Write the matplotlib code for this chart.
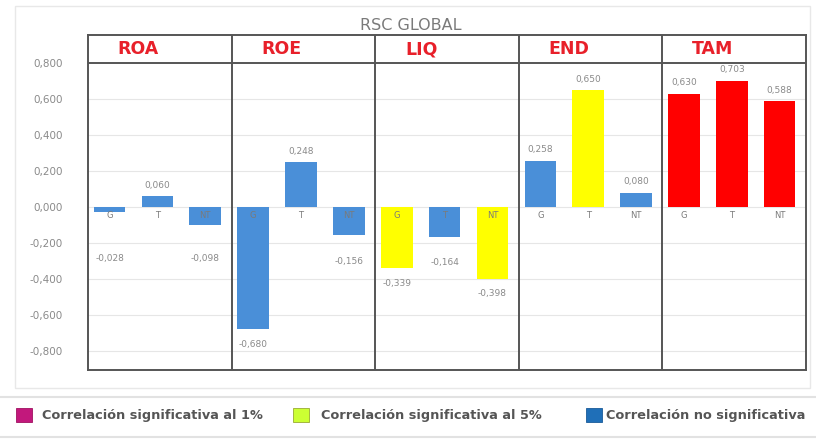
import matplotlib
matplotlib.use("Agg")
import matplotlib.pyplot as plt
from matplotlib.patches import Rectangle
from matplotlib.lines import Line2D

# ---- data ----
groups = ["ROA", "ROE", "LIQ", "END", "TAM"]
subcats = ["G", "T", "NT"]
values = {
    "ROA": [-0.028, 0.060, -0.098],
    "ROE": [-0.680, 0.248, -0.156],
    "LIQ": [-0.339, -0.164, -0.398],
    "END": [0.258, 0.650, 0.080],
    "TAM": [0.630, 0.703, 0.588],
}
# significance: 1 = 1%, 5 = 5%, 0 = not significant
signif = {
    "ROA": [0, 0, 0],
    "ROE": [0, 0, 0],
    "LIQ": [5, 0, 5],
    "END": [0, 5, 0],
    "TAM": [1, 1, 1],
}
yticks = [-0.8, -0.6, -0.4, -0.2, 0.0, 0.2, 0.4, 0.6, 0.8]
title = "RSC GLOBAL"
legend_labels = ["Correlación significativa al 1%", "Correlación significativa al 5%",
                 "Correlación no significativa"]

# ---- style ----
bar_colors = {1: "#ff0000", 5: "#ffff00", 0: "#4a8fd8"}
legend_colors = ["#c2187c", "#ccff33", "#1f6fb8"]
legend_edges = ["#a01060", "#99aa33", "#1a5a99"]
grey_txt = "#8a8a8a"

fig = plt.figure(figsize=(8.16, 4.41), dpi=100)
fig.patch.set_facecolor("white")

# faint outer chart frame
fig.add_artist(Rectangle((15 / 816, 1 - 388 / 441), 795 / 816, 382 / 441,
                         transform=fig.transFigure, fill=False,
                         edgecolor="#e8e8e8", lw=1.0))

ax = fig.add_axes([88 / 816, 1 - 370 / 441, 718 / 816, 335 / 441])
ymin, ymax = -0.906, 0.956
ax.set_ylim(ymin, ymax)
ax.set_xlim(0, 15)

# gridlines
for t in yticks[:-1]:
    ax.axhline(t, color="#e6e6e6", lw=0.8, zorder=0)

for gi, g in enumerate(groups):
    for si, s in enumerate(subcats):
        x = gi * 3 + si + 0.45
        v = values[g][si]
        c = bar_colors[signif[g][si]]
        ax.bar(x, v, width=0.66, color=c, zorder=2)
        lab = f"{v:.3f}".replace(".", ",")
        if v >= 0:
            ax.text(x, v + 0.035, lab, ha="center", va="bottom",
                    fontsize=6.5, color=grey_txt, zorder=3)
        else:
            ly = min(v - 0.06, -0.2) - (0.06 if v > -0.2 else 0.0)
            ax.text(x, ly, lab, ha="center", va="top",
                    fontsize=6.5, color=grey_txt, zorder=3)
        ax.text(x, -0.045, s, ha="center", va="center", fontsize=6,
                color="#7a7a7a", zorder=3)
    ax.text(gi * 3 + 0.62, 0.878, g, ha="left", va="center", fontsize=12.5,
            fontweight="bold", color="#e8202a", zorder=4)

# panel dividers and header line
for k in range(1, 5):
    ax.axvline(k * 3, color="#555555", lw=1.4, zorder=4)
ax.axhline(0.8, color="#555555", lw=1.4, zorder=4)
for sp in ax.spines.values():
    sp.set_color("#555555")
    sp.set_linewidth(1.4)

ax.set_xticks([])
ax.set_yticks(yticks)
ax.set_yticklabels([f"{t:.3f}".replace(".", ",") for t in yticks],
                   fontsize=7.5, color=grey_txt)
ax.tick_params(axis="y", length=0, pad=18)

fig.text(411 / 816, 1 - 25 / 441, title, ha="center", va="center", fontsize=11.5,
         color="#7a7a7a")

# legend area
for yy in (397, 437):
    fig.add_artist(Line2D([0, 1], [1 - yy / 441] * 2, transform=fig.transFigure,
                          color="#e2e2e2", lw=1.5))
lx_box = [16, 293, 586]
lx_txt = [42, 321, 606]
for i in range(3):
    fig.add_artist(Rectangle((lx_box[i] / 816, 1 - 422 / 441), 16 / 816, 14 / 441,
                             transform=fig.transFigure, facecolor=legend_colors[i],
                             edgecolor=legend_edges[i], lw=0.6))
    fig.text(lx_txt[i] / 816, 1 - 415 / 441, legend_labels[i], ha="left", va="center",
             fontsize=9.3, fontweight="bold", color="#555555")

fig.savefig("out.png", dpi=100, facecolor="white")
